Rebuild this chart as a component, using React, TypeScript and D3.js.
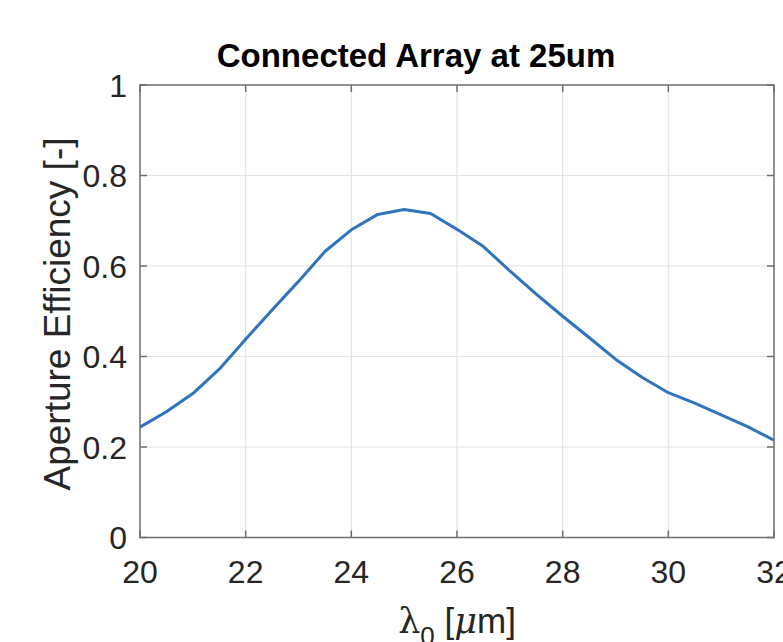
import React from 'react'
import * as d3 from 'd3'

// wavelength in um, 0.5 um step
const wavelength = [
  20, 20.5, 21, 21.5, 22, 22.5, 23, 23.5, 24, 24.5, 25, 25.5, 26, 26.5, 27,
  27.5, 28, 28.5, 29, 29.5, 30, 30.5, 31, 31.5, 32,
]
const efficiency = [
  0.244, 0.278, 0.318, 0.372, 0.438, 0.503, 0.566, 0.632, 0.68, 0.714, 0.725,
  0.716, 0.681, 0.643, 0.589, 0.538, 0.489, 0.442, 0.394, 0.354, 0.32, 0.297,
  0.271, 0.245, 0.215,
]
const xTicks = [20, 22, 24, 26, 28, 30, 32]
const yTicks = [0, 0.2, 0.4, 0.6, 0.8, 1]
const yTickLabels = ['0', '0.2', '0.4', '0.6', '0.8', '1']

const chartTitle = 'Connected Array at 25um'
const yLabel = 'Aperture Efficiency [-]'

function App() {
  const svgRef = React.useRef(null)
  const width = 783
  const height = 642
  const margin = { top: 85, right: 9, bottom: 105, left: 140 }

  React.useEffect(() => {
    const svg = d3.select(svgRef.current)
    svg.selectAll('*').remove()

    const font = "'Liberation Sans', Arial, Helvetica, sans-serif"
    const axisColor = '#262626'

    const xScale = d3
      .scaleLinear()
      .domain([20, 32])
      .range([margin.left, width - margin.right])
    const yScale = d3
      .scaleLinear()
      .domain([0, 1])
      .range([height - margin.bottom + 0.5, margin.top])

    const x0 = xScale(20)
    const x1 = xScale(32)
    const y0 = yScale(0)
    const y1 = yScale(1)

    svg
      .append('rect')
      .attr('width', width)
      .attr('height', height)
      .attr('fill', 'white')

    // grid
    const grid = svg.append('g')
    xTicks.slice(1, -1).forEach((t) => {
      grid
        .append('line')
        .attr('x1', xScale(t))
        .attr('x2', xScale(t))
        .attr('y1', y1)
        .attr('y2', y0)
        .attr('stroke', '#e3e3e3')
        .attr('stroke-width', 1.2)
    })
    yTicks.slice(1, -1).forEach((t) => {
      grid
        .append('line')
        .attr('x1', x0)
        .attr('x2', x1)
        .attr('y1', yScale(t))
        .attr('y2', yScale(t))
        .attr('stroke', '#e3e3e3')
        .attr('stroke-width', 1.2)
    })

    // curve
    const line = d3
      .line()
      .x((d, i) => xScale(wavelength[i]))
      .y((d) => yScale(d))
    svg
      .append('path')
      .datum(efficiency)
      .attr('d', line)
      .attr('fill', 'none')
      .attr('stroke', '#2f74bd')
      .attr('stroke-width', 3)
      .attr('stroke-linejoin', 'round')

    // box + inward ticks
    svg
      .append('rect')
      .attr('x', x0)
      .attr('y', y1)
      .attr('width', x1 - x0)
      .attr('height', y0 - y1)
      .attr('fill', 'none')
      .attr('stroke', '#6e6e6e')
      .attr('stroke-width', 1.5)

    const tickLen = 7
    xTicks.forEach((t) => {
      const x = xScale(t)
      svg
        .append('line')
        .attr('x1', x).attr('x2', x)
        .attr('y1', y0).attr('y2', y0 - tickLen)
        .attr('stroke', '#6e6e6e').attr('stroke-width', 1.5)
      svg
        .append('line')
        .attr('x1', x).attr('x2', x)
        .attr('y1', y1).attr('y2', y1 + tickLen)
        .attr('stroke', '#6e6e6e').attr('stroke-width', 1.5)
      svg
        .append('text')
        .attr('x', x)
        .attr('y', y0 + 45)
        .attr('text-anchor', 'middle')
        .attr('font-family', font)
        .attr('font-size', 32)
        .attr('fill', axisColor)
        .text(t)
    })
    yTicks.forEach((t, i) => {
      const y = yScale(t)
      svg
        .append('line')
        .attr('x1', x0).attr('x2', x0 + tickLen)
        .attr('y1', y).attr('y2', y)
        .attr('stroke', '#6e6e6e').attr('stroke-width', 1.5)
      svg
        .append('line')
        .attr('x1', x1).attr('x2', x1 - tickLen)
        .attr('y1', y).attr('y2', y)
        .attr('stroke', '#6e6e6e').attr('stroke-width', 1.5)
      svg
        .append('text')
        .attr('x', x0 - 13)
        .attr('y', y + 11.5)
        .attr('text-anchor', 'end')
        .attr('font-family', font)
        .attr('font-size', 32)
        .attr('fill', axisColor)
        .text(yTickLabels[i])
    })

    // title
    svg
      .append('text')
      .attr('x', 416)
      .attr('y', 67)
      .attr('text-anchor', 'middle')
      .attr('font-family', font)
      .attr('font-weight', 'bold')
      .attr('font-size', 33)
      .attr('fill', 'black')
      .text(chartTitle)

    // y label
    svg
      .append('text')
      .attr('transform', 'translate(70, 314) rotate(-90)')
      .attr('text-anchor', 'middle')
      .attr('font-family', font)
      .attr('font-size', 37)
      .attr('fill', axisColor)
      .text(yLabel)

    // x label: lambda_0 [mu m]
    const xl = svg
      .append('text')
      .attr('x', (x0 + x1) / 2)
      .attr('y', 633)
      .attr('text-anchor', 'middle')
      .attr('font-family', font)
      .attr('font-size', 35)
      .attr('fill', axisColor)
    xl.append('tspan').attr('font-family', "'DejaVu Serif', serif").text('λ')
    xl.append('tspan').attr('dy', 12).attr('font-size', 26).text('0')
    xl.append('tspan').attr('dy', -12).text(' [')
    xl
      .append('tspan')
      .attr('font-family', "'DejaVu Serif', serif")
      .attr('font-style', 'italic')
      .text('μ')
    xl.append('tspan').text('m]')
  }, [])

  return (
    <svg
      ref={svgRef}
      width={width}
      height={height}
      style={{ position: 'absolute', left: 0, top: 0 }}
    ></svg>
  )
}

export default App
